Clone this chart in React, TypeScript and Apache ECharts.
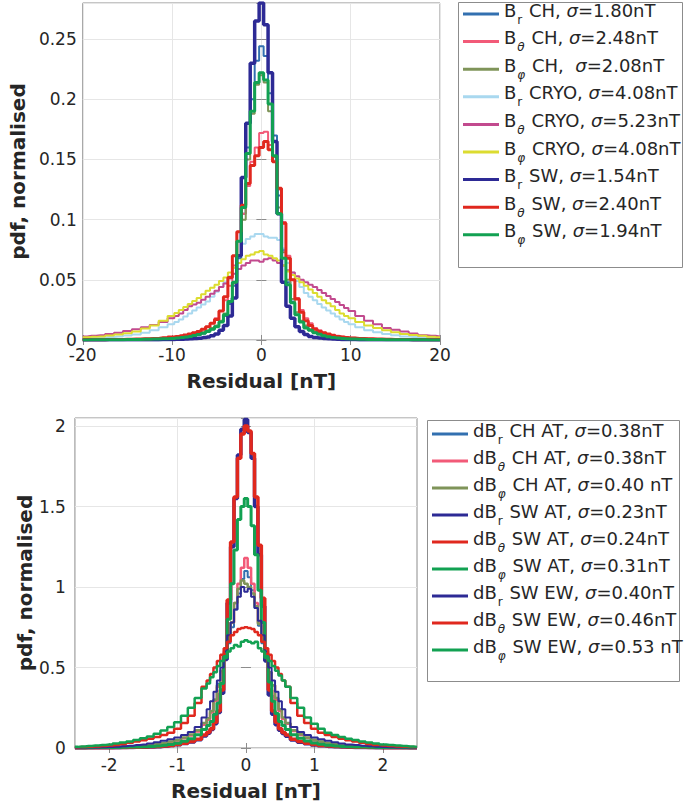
import React, { useEffect, useRef } from 'react';
import * as echarts from 'echarts';

const FONT = 'DejaVu Sans';
const INK = '#262626';
const FRAME = '#8c8c8c';
const GRIDLINE = '#e6e6e6';

// --- upper panel: residual bins [nT] ---
const topResidual = [
  -20, -19, -18, -17, -16, -15, -14, -13, -12, -11,
  -10, -9.5, -9, -8.5, -8, -7.5, -7, -6.5, -6, -5.5,
  -5, -4.5, -4, -3.5, -3, -2.5, -2, -1.5, -1, -0.5,
  0,
  0.5, 1, 1.5, 2, 2.5, 3, 3.5, 4, 4.5, 5,
  5.5, 6, 6.5, 7, 7.5, 8, 8.5, 9, 9.5, 10,
  11, 12, 13, 14, 15, 16, 17, 18, 19, 20,
];

const topBrCH = [
  0.0002, 0.0002, 0.0003, 0.0003, 0.0004, 0.0005, 0.0006, 0.0007, 0.001, 0.0012,
  0.0015, 0.0018, 0.002, 0.0025, 0.003, 0.0037, 0.0045, 0.0055, 0.007, 0.009,
  0.011, 0.015, 0.02, 0.03, 0.045, 0.068, 0.105, 0.16, 0.2, 0.232,
  0.244,
  0.236, 0.205, 0.17, 0.12, 0.075, 0.048, 0.032, 0.021, 0.015, 0.011,
  0.008, 0.006, 0.005, 0.004, 0.0032, 0.0025, 0.002, 0.0015, 0.0012, 0.001,
  0.0008, 0.0006, 0.0005, 0.0004, 0.0004, 0.0003, 0.0003, 0.0002, 0.0002, 0.0002,
];
const topBthCH = [
  0.0002, 0.0003, 0.0003, 0.0004, 0.0005, 0.0006, 0.0008, 0.001, 0.0013, 0.0018,
  0.0025, 0.003, 0.0035, 0.0042, 0.005, 0.006, 0.007, 0.009, 0.011, 0.014,
  0.018, 0.024, 0.033, 0.045, 0.062, 0.082, 0.105, 0.128, 0.148, 0.16,
  0.172,
  0.173, 0.162, 0.148, 0.125, 0.098, 0.07, 0.05, 0.035, 0.025, 0.018,
  0.014, 0.01, 0.008, 0.006, 0.005, 0.0042, 0.0035, 0.0028, 0.0022, 0.0018,
  0.0013, 0.001, 0.0007, 0.0006, 0.0005, 0.0004, 0.0003, 0.0003, 0.0002, 0.0002,
];
const topBphCH = [
  0.0002, 0.0002, 0.0003, 0.0003, 0.0004, 0.0005, 0.0007, 0.0008, 0.001, 0.0014,
  0.0018, 0.0021, 0.0025, 0.003, 0.0035, 0.0042, 0.005, 0.0065, 0.008, 0.01,
  0.012, 0.016, 0.022, 0.032, 0.047, 0.07, 0.1, 0.15, 0.188, 0.212,
  0.22,
  0.214, 0.19, 0.152, 0.11, 0.073, 0.05, 0.034, 0.023, 0.016, 0.012,
  0.009, 0.007, 0.0057, 0.0045, 0.0037, 0.003, 0.0025, 0.002, 0.0016, 0.0013,
  0.001, 0.0008, 0.0006, 0.0005, 0.0004, 0.0003, 0.0003, 0.0002, 0.0002, 0.0002,
];
const topBrCRYO = [
  0.0015, 0.0018, 0.002, 0.0025, 0.003, 0.0037, 0.0045, 0.006, 0.008, 0.0105,
  0.013, 0.015, 0.017, 0.0195, 0.022, 0.0245, 0.027, 0.0295, 0.032, 0.036,
  0.04, 0.044, 0.048, 0.053, 0.06, 0.07, 0.08, 0.084, 0.086, 0.088,
  0.088,
  0.086, 0.085, 0.085, 0.083, 0.076, 0.064, 0.056, 0.049, 0.044, 0.039,
  0.036, 0.033, 0.03, 0.027, 0.0245, 0.022, 0.0195, 0.017, 0.015, 0.013,
  0.0105, 0.008, 0.0065, 0.005, 0.004, 0.003, 0.0025, 0.002, 0.0017, 0.0015,
];
const topBthCRYO = [
  0.003, 0.0035, 0.004, 0.005, 0.006, 0.0075, 0.009, 0.0105, 0.0125, 0.015,
  0.018, 0.02, 0.022, 0.025, 0.028, 0.0295, 0.031, 0.0335, 0.036, 0.0385,
  0.041, 0.044, 0.047, 0.051, 0.055, 0.059, 0.062, 0.064, 0.066, 0.066,
  0.065,
  0.067, 0.068, 0.066, 0.064, 0.062, 0.058, 0.056, 0.053, 0.05, 0.048,
  0.046, 0.044, 0.0415, 0.039, 0.0365, 0.034, 0.0315, 0.029, 0.0265, 0.024,
  0.02, 0.016, 0.013, 0.01, 0.0085, 0.007, 0.0055, 0.004, 0.0035, 0.003,
];
const topBphCRYO = [
  0.0022, 0.0026, 0.003, 0.0037, 0.0045, 0.0057, 0.007, 0.0095, 0.012, 0.016,
  0.02, 0.0225, 0.025, 0.0275, 0.03, 0.0325, 0.035, 0.038, 0.041, 0.0435,
  0.046, 0.049, 0.052, 0.056, 0.06, 0.064, 0.067, 0.07, 0.071, 0.073,
  0.074,
  0.071, 0.07, 0.068, 0.066, 0.062, 0.057, 0.054, 0.051, 0.048, 0.045,
  0.042, 0.039, 0.036, 0.033, 0.0305, 0.028, 0.025, 0.022, 0.02, 0.018,
  0.015, 0.012, 0.01, 0.008, 0.0065, 0.005, 0.0042, 0.0035, 0.0028, 0.0022,
];
const topBrSW = [
  0.0001, 0.0001, 0.0001, 0.0002, 0.0002, 0.0002, 0.0002, 0.0003, 0.0003, 0.0004,
  0.0005, 0.0006, 0.0007, 0.0008, 0.001, 0.0012, 0.0015, 0.002, 0.0025, 0.0035,
  0.005, 0.008, 0.012, 0.02, 0.035, 0.07, 0.135, 0.18, 0.23, 0.265,
  0.28,
  0.262, 0.222, 0.165, 0.105, 0.048, 0.028, 0.018, 0.011, 0.007, 0.0045,
  0.003, 0.002, 0.0016, 0.0012, 0.001, 0.0008, 0.0006, 0.0005, 0.0004, 0.0004,
  0.0003, 0.0003, 0.0002, 0.0002, 0.0002, 0.0002, 0.0001, 0.0001, 0.0001, 0.0001,
];
const topBthSW = [
  0.0002, 0.0003, 0.0003, 0.0004, 0.0005, 0.0006, 0.0008, 0.001, 0.0013, 0.0018,
  0.0025, 0.003, 0.0035, 0.0042, 0.005, 0.006, 0.007, 0.009, 0.011, 0.014,
  0.017, 0.024, 0.036, 0.052, 0.07, 0.09, 0.112, 0.13, 0.145, 0.153,
  0.16,
  0.165, 0.158, 0.148, 0.126, 0.097, 0.068, 0.05, 0.034, 0.023, 0.016,
  0.012, 0.009, 0.007, 0.006, 0.005, 0.004, 0.003, 0.0025, 0.002, 0.0016,
  0.0013, 0.001, 0.0008, 0.0006, 0.0005, 0.0004, 0.0003, 0.0003, 0.0002, 0.0002,
];
const topBphSW = [
  0.0001, 0.0002, 0.0002, 0.0002, 0.0003, 0.0004, 0.0005, 0.0006, 0.0008, 0.001,
  0.0013, 0.0016, 0.002, 0.0025, 0.003, 0.0037, 0.0045, 0.0057, 0.007, 0.009,
  0.011, 0.015, 0.021, 0.032, 0.048, 0.082, 0.11, 0.155, 0.19, 0.214,
  0.222,
  0.216, 0.196, 0.153, 0.105, 0.068, 0.046, 0.031, 0.021, 0.015, 0.01,
  0.008, 0.006, 0.0047, 0.0035, 0.0027, 0.002, 0.0016, 0.0013, 0.0011, 0.0009,
  0.0007, 0.0005, 0.0004, 0.0003, 0.0003, 0.0002, 0.0002, 0.0002, 0.0001, 0.0001,
];

const topSub = ['r', 'θ', 'φ', 'r', 'θ', 'φ', 'r', 'θ', 'φ'];
const topSet = [' CH, ', ' CH, ', ' CH,  ', ' CRYO, ', ' CRYO, ', ' CRYO, ', ' SW, ', ' SW, ', ' SW, '];
const topSigma = ['=1.80nT', '=2.48nT', '=2.08nT', '=4.08nT', '=5.23nT', '=4.08nT', '=1.54nT', '=2.40nT', '=1.94nT'];
const topValues = [topBrCH, topBthCH, topBphCH, topBrCRYO, topBthCRYO, topBphCRYO, topBrSW, topBthSW, topBphSW];

// --- lower panel: residual bins [nT] ---
const bottomResidual = [
  -2.5, -2.4, -2.3, -2.2, -2.1, -2, -1.9, -1.8, -1.7, -1.6,
  -1.5, -1.4, -1.3, -1.2, -1.1, -1, -0.9, -0.8, -0.7, -0.6,
  -0.55, -0.5, -0.45, -0.4, -0.35, -0.3, -0.25, -0.2, -0.15, -0.1, -0.05,
  0,
  0.05, 0.1, 0.15, 0.2, 0.25, 0.3, 0.35, 0.4, 0.45, 0.5, 0.55,
  0.6, 0.7, 0.8, 0.9, 1, 1.1, 1.2, 1.3, 1.4, 1.5,
  1.6, 1.7, 1.8, 1.9, 2, 2.1, 2.2, 2.3, 2.4, 2.5,
];

const dBrCHAT = [
  0.001, 0.0014, 0.002, 0.0028, 0.0036, 0.004, 0.005, 0.0065, 0.008, 0.011,
  0.014, 0.018, 0.023, 0.03, 0.038, 0.048, 0.062, 0.08, 0.105, 0.15,
  0.18, 0.23, 0.3, 0.4, 0.48, 0.56, 0.65, 0.75, 0.86, 0.96, 1.05,
  1.1,
  1.06, 0.98, 0.87, 0.76, 0.65, 0.56, 0.47, 0.39, 0.3, 0.23, 0.18,
  0.15, 0.105, 0.08, 0.062, 0.048, 0.038, 0.03, 0.023, 0.018, 0.014,
  0.011, 0.008, 0.0065, 0.005, 0.004, 0.0036, 0.0028, 0.002, 0.0014, 0.001,
];
const dBthCHAT = [
  0.001, 0.0014, 0.002, 0.0028, 0.0036, 0.004, 0.005, 0.006, 0.0075, 0.01,
  0.013, 0.017, 0.022, 0.028, 0.036, 0.046, 0.06, 0.078, 0.103, 0.145,
  0.175, 0.22, 0.29, 0.38, 0.47, 0.56, 0.66, 0.78, 0.9, 1.02, 1.12,
  1.18,
  1.12, 1.02, 0.9, 0.78, 0.66, 0.56, 0.47, 0.39, 0.3, 0.23, 0.18,
  0.15, 0.106, 0.08, 0.062, 0.047, 0.037, 0.029, 0.022, 0.017, 0.013,
  0.01, 0.0075, 0.006, 0.005, 0.004, 0.0036, 0.0028, 0.002, 0.0014, 0.001,
];
const dBphCHAT = [
  0.001, 0.0018, 0.0025, 0.0035, 0.0045, 0.005, 0.006, 0.0075, 0.009, 0.012,
  0.015, 0.019, 0.024, 0.031, 0.04, 0.05, 0.065, 0.084, 0.11, 0.155,
  0.185, 0.23, 0.3, 0.39, 0.48, 0.57, 0.67, 0.78, 0.9, 0.99, 1.04,
  1.02,
  1.0, 0.96, 0.88, 0.77, 0.66, 0.56, 0.47, 0.39, 0.31, 0.24, 0.19,
  0.155, 0.11, 0.085, 0.066, 0.051, 0.04, 0.031, 0.024, 0.019, 0.015,
  0.012, 0.009, 0.0075, 0.006, 0.005, 0.0045, 0.0035, 0.0025, 0.0018, 0.001,
];
const dBrSWAT = [
  0.0005, 0.0007, 0.001, 0.0012, 0.0015, 0.0015, 0.002, 0.0025, 0.003, 0.004,
  0.005, 0.006, 0.008, 0.011, 0.015, 0.02, 0.028, 0.038, 0.052, 0.075,
  0.092, 0.115, 0.15, 0.22, 0.34, 0.55, 0.9, 1.25, 1.55, 1.82, 1.98,
  2.04,
  1.96, 1.8, 1.5, 1.2, 0.88, 0.54, 0.33, 0.21, 0.145, 0.11, 0.09,
  0.073, 0.05, 0.036, 0.026, 0.019, 0.014, 0.01, 0.008, 0.006, 0.0045,
  0.0035, 0.003, 0.0025, 0.002, 0.0015, 0.0015, 0.0012, 0.001, 0.0007, 0.0005,
];
const dBthSWAT = [
  0.001, 0.0012, 0.0015, 0.0018, 0.002, 0.002, 0.0025, 0.003, 0.004, 0.005,
  0.006, 0.007, 0.009, 0.012, 0.016, 0.021, 0.029, 0.04, 0.055, 0.08,
  0.098, 0.12, 0.16, 0.23, 0.36, 0.58, 0.92, 1.28, 1.56, 1.8, 1.95,
  2.0,
  1.97, 1.83, 1.56, 1.26, 0.93, 0.58, 0.36, 0.23, 0.16, 0.12, 0.097,
  0.08, 0.055, 0.04, 0.029, 0.021, 0.016, 0.012, 0.009, 0.007, 0.006,
  0.005, 0.004, 0.003, 0.0025, 0.002, 0.002, 0.0018, 0.0015, 0.0012, 0.001,
];
const dBphSWAT = [
  0.001, 0.0014, 0.002, 0.0025, 0.003, 0.003, 0.0035, 0.0045, 0.0055, 0.0065,
  0.008, 0.01, 0.013, 0.017, 0.022, 0.03, 0.042, 0.058, 0.082, 0.115,
  0.14, 0.165, 0.21, 0.28, 0.4, 0.56, 0.8, 1.02, 1.23, 1.42, 1.5,
  1.55,
  1.5, 1.38, 1.2, 0.98, 0.78, 0.56, 0.41, 0.29, 0.215, 0.165, 0.14,
  0.115, 0.083, 0.06, 0.043, 0.031, 0.023, 0.017, 0.013, 0.01, 0.008,
  0.0065, 0.0055, 0.0045, 0.0035, 0.003, 0.003, 0.0025, 0.002, 0.0014, 0.001,
];
const dBrSWEW = [
  0.002, 0.0025, 0.003, 0.0038, 0.0047, 0.006, 0.008, 0.011, 0.014, 0.018,
  0.022, 0.028, 0.035, 0.045, 0.055, 0.066, 0.08, 0.1, 0.13, 0.19,
  0.24, 0.29, 0.35, 0.42, 0.5, 0.6, 0.7, 0.78, 0.86, 0.94, 1.0,
  0.97,
  0.99, 0.94, 0.87, 0.79, 0.7, 0.6, 0.5, 0.42, 0.35, 0.29, 0.24,
  0.19, 0.13, 0.1, 0.08, 0.066, 0.055, 0.045, 0.035, 0.028, 0.022,
  0.018, 0.014, 0.011, 0.008, 0.006, 0.0047, 0.0038, 0.003, 0.0025, 0.002,
];
const dBthSWEW = [
  0.004, 0.0055, 0.007, 0.0095, 0.012, 0.015, 0.019, 0.025, 0.032, 0.04,
  0.048, 0.058, 0.068, 0.08, 0.095, 0.12, 0.155, 0.2, 0.28, 0.38,
  0.42, 0.46, 0.5, 0.54, 0.58, 0.62, 0.66, 0.7, 0.72, 0.74, 0.745,
  0.75,
  0.745, 0.74, 0.72, 0.7, 0.66, 0.62, 0.58, 0.54, 0.5, 0.46, 0.42,
  0.38, 0.28, 0.2, 0.155, 0.12, 0.095, 0.08, 0.068, 0.058, 0.048,
  0.04, 0.032, 0.025, 0.019, 0.015, 0.012, 0.0095, 0.007, 0.0055, 0.004,
];
const dBphSWEW = [
  0.007, 0.009, 0.012, 0.016, 0.019, 0.022, 0.028, 0.034, 0.04, 0.05,
  0.06, 0.072, 0.088, 0.108, 0.13, 0.16, 0.2, 0.25, 0.31, 0.37,
  0.4, 0.44, 0.47, 0.51, 0.54, 0.57, 0.6, 0.62, 0.64, 0.63, 0.66,
  0.67,
  0.66, 0.65, 0.66, 0.62, 0.6, 0.57, 0.54, 0.51, 0.48, 0.45, 0.42,
  0.38, 0.31, 0.25, 0.19, 0.15, 0.12, 0.095, 0.08, 0.068, 0.058,
  0.05, 0.04, 0.034, 0.028, 0.022, 0.019, 0.016, 0.012, 0.009, 0.007,
];

const bottomSub = ['r', 'θ', 'φ', 'r', 'θ', 'φ', 'r', 'θ', 'φ'];
const bottomSet = [' CH AT, ', ' CH AT, ', ' CH AT, ', ' SW AT, ', ' SW AT, ', ' SW AT, ', ' SW EW, ', ' SW EW, ', ' SW EW, '];
const bottomSigma = ['=0.38nT', '=0.38nT', '=0.40 nT', '=0.23nT', '=0.24nT', '=0.31nT', '=0.40nT', '=0.46nT', '=0.53 nT'];
const bottomValues = [dBrCHAT, dBthCHAT, dBphCHAT, dBrSWAT, dBthSWAT, dBphSWAT, dBrSWEW, dBthSWEW, dBphSWEW];

const bottomTicks = [-2, -1, 0, 1, 2];

// --- styles ---
const topColors = ['#3270b0', '#f25a78', '#7f9459', '#a9d8ef', '#c24a8e', '#dcdc30', '#2d2a95', '#e0281e', '#12a152'];
const topWidths = [2, 2, 2, 2, 2, 2, 3.5, 3, 3];
const bottomColors = ['#3270b0', '#f25a78', '#7f9459', '#2d2a95', '#e0281e', '#12a152', '#2d2a95', '#e0281e', '#12a152'];
const bottomWidths = [2, 2.5, 2.5, 3.5, 3.5, 3, 2, 2.5, 2.5];

const rich = {
  m: { fontFamily: FONT, fontSize: 18, color: INK, lineHeight: 20, padding: [0, 0, 8, 0] },
  g: { fontFamily: FONT, fontSize: 18, fontStyle: 'italic', color: INK, lineHeight: 20, padding: [0, 0, 8, 0] },
  s: { fontFamily: FONT, fontSize: 12, color: INK, lineHeight: 12, padding: [11, 1, 0, 1] },
  sg: { fontFamily: FONT, fontSize: 12, fontStyle: 'italic', color: INK, lineHeight: 12, padding: [11, 1, 0, 1] },
};

const richLabel = (prefix: string, sub: string, set: string, sigma: string) =>
  `{m|${prefix}}{${sub === 'r' ? 's' : 'sg'}|${sub}}{m|${set}}{g|σ}{m|${sigma}}`;

const topNames = topSub.map((s, i) => `B${s}${topSet[i]}σ${topSigma[i]}`);
const bottomNames = bottomSub.map((s, i) => `dB${s}${bottomSet[i]}σ${bottomSigma[i]}`);

const legendText: Record<string, string> = {};
topNames.forEach((n, i) => { legendText[n] = richLabel('B', topSub[i], topSet[i], topSigma[i]); });
bottomNames.forEach((n, i) => { legendText[n] = richLabel('dB', bottomSub[i], bottomSet[i], bottomSigma[i]); });

const tickLabel = { fontFamily: FONT, fontSize: 17, color: INK };
const nameStyle = { fontFamily: FONT, fontSize: 20, fontWeight: 'bold' as const, color: INK };
const innerTick = { inside: true, length: 5, lineStyle: { color: FRAME } };
const fmtNum = (v: number) => String(parseFloat(v.toFixed(3)));

const buildOption = () => {
  const series: any[] = [];
  topNames.forEach((name, i) => {
    series.push({
      name, type: 'line', step: 'middle', xAxisIndex: 0, yAxisIndex: 0,
      data: topResidual.map((x, k) => [x, topValues[i][k]]),
      symbol: 'none', silent: true,
      color: topColors[i],
      lineStyle: { color: topColors[i], width: topWidths[i] },
    });
  });
  bottomNames.forEach((name, i) => {
    series.push({
      name, type: 'line', step: 'middle', xAxisIndex: 2, yAxisIndex: 2,
      data: bottomResidual.map((x, k) => [x, bottomValues[i][k]]),
      symbol: 'none', silent: true,
      color: bottomColors[i],
      lineStyle: { color: bottomColors[i], width: bottomWidths[i] },
    });
  });

  const legendBase = {
    orient: 'vertical', icon: 'rect', itemWidth: 36, itemHeight: 3, padding: 0,
    selectedMode: false,
    formatter: (n: string) => legendText[n],
    textStyle: { fontFamily: FONT, fontSize: 18, color: INK, rich },
  };

  return {
    animation: false,
    backgroundColor: '#ffffff',
    grid: [
      { left: 73, top: 3, width: 367, height: 337, show: true, borderColor: FRAME, borderWidth: 1, backgroundColor: 'transparent' },
      { left: 68, top: 418, width: 349, height: 330, show: true, borderColor: FRAME, borderWidth: 1, backgroundColor: 'transparent' },
    ],
    xAxis: [
      {
        gridIndex: 0, type: 'value', min: -20, max: 20, interval: 10, position: 'bottom',
        axisLine: { show: false }, axisTick: innerTick,
        axisLabel: { ...tickLabel, margin: 6, formatter: fmtNum },
        splitLine: { show: true, lineStyle: { color: GRIDLINE } },
        name: 'Residual [nT]', nameLocation: 'middle', nameGap: 31, nameTextStyle: nameStyle,
      },
      {
        gridIndex: 0, type: 'value', min: -20, max: 20, interval: 10, position: 'top',
        axisLine: { show: false }, axisTick: innerTick, axisLabel: { show: false }, splitLine: { show: false },
      },
      {
        gridIndex: 1, type: 'value', min: -2.5, max: 2.5, interval: 0.5, position: 'bottom',
        axisLine: { show: false },
        axisTick: { ...innerTick, customValues: bottomTicks },
        axisLabel: {
          ...tickLabel, margin: 8, customValues: bottomTicks,
          formatter: (v: number) => (Math.abs(v - Math.round(v)) < 1e-6 ? String(Math.round(v)) : ''),
        },
        splitLine: { show: true, lineStyle: { color: ['rgba(0,0,0,0)', GRIDLINE] } },
        name: 'Residual [nT]', nameLocation: 'middle', nameGap: 33, nameTextStyle: nameStyle,
      },
      {
        gridIndex: 1, type: 'value', min: -2.5, max: 2.5, interval: 0.5, position: 'top',
        axisLine: { show: false },
        axisTick: { ...innerTick, customValues: bottomTicks },
        axisLabel: { show: false }, splitLine: { show: false },
      },
    ],
    yAxis: [
      {
        gridIndex: 0, type: 'value', min: 0, max: 0.28, interval: 0.05, position: 'left',
        axisLine: { show: false }, axisTick: innerTick,
        axisLabel: { ...tickLabel, margin: 6, showMaxLabel: false, formatter: fmtNum },
        splitLine: { show: true, lineStyle: { color: GRIDLINE } },
        name: 'pdf, normalised', nameLocation: 'middle', nameGap: 44, nameTextStyle: nameStyle,
      },
      {
        gridIndex: 0, type: 'value', min: 0, max: 0.28, interval: 0.05, position: 'right',
        axisLine: { show: false }, axisTick: innerTick, axisLabel: { show: false }, splitLine: { show: false },
      },
      {
        gridIndex: 1, type: 'value', min: 0, max: 2.05, interval: 0.5, position: 'left',
        axisLine: { show: false }, axisTick: innerTick,
        axisLabel: { ...tickLabel, margin: 9, formatter: fmtNum },
        splitLine: { show: true, lineStyle: { color: GRIDLINE } },
        name: 'pdf, normalised', nameLocation: 'middle', nameGap: 39, nameTextStyle: nameStyle,
      },
      {
        gridIndex: 1, type: 'value', min: 0, max: 2.05, interval: 0.5, position: 'right',
        axisLine: { show: false }, axisTick: innerTick, axisLabel: { show: false }, splitLine: { show: false },
      },
    ],
    legend: [
      { ...legendBase, left: 463, top: 1, itemGap: 1.6, data: topNames },
      { ...legendBase, left: 432, top: 421, itemGap: 1, data: bottomNames },
    ],
    graphic: [
      { type: 'rect', silent: true, z: -1, shape: { x: 458.5, y: 2.5, width: 224, height: 265 }, style: { fill: '#fff', stroke: FRAME, lineWidth: 1 } },
      { type: 'rect', silent: true, z: -1, shape: { x: 427.5, y: 420.5, width: 252, height: 261 }, style: { fill: '#fff', stroke: FRAME, lineWidth: 1 } },
    ],
    series,
  };
};

export default function App() {
  const chartRef = useRef<HTMLDivElement>(null);

  useEffect(() => {
    if (!chartRef.current) return;
    const chart = echarts.init(chartRef.current, null, { renderer: 'svg' });
    chart.setOption(buildOption() as any);
    return () => {
      chart.dispose();
    };
  }, []);

  return (
    <div
      ref={chartRef}
      style={{ position: 'absolute', left: 0, top: 0, width: 685, height: 803, background: '#fff' }}
    />
  );
}
